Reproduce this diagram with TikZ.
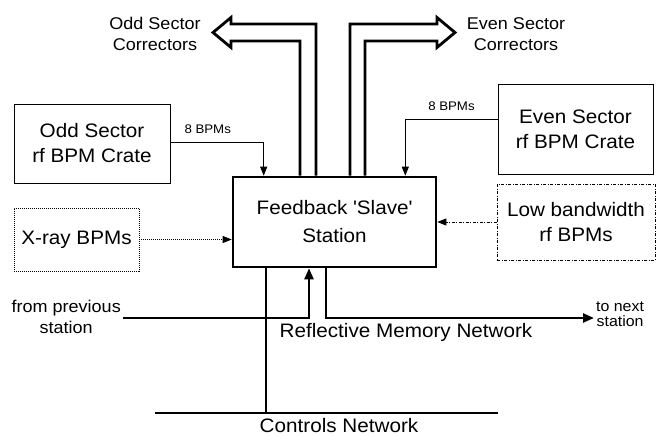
\documentclass[tikz,border=0pt]{standalone}
\usepackage{fontspec}
\setmainfont[FakeStretch=1.06]{Liberation Sans}
\usetikzlibrary{positioning,arrows.meta}

\begin{document}
\begin{tikzpicture}[x=1pt, y=-1pt, >={Triangle[width=9pt,length=11pt]},
  station/.style={draw, line width=2.6pt, minimum width=203pt, minimum height=90pt, align=center, font=\fontsize{19.5}{28}\selectfont},
  crate/.style={draw, line width=0.8pt, align=center, font=\fontsize{19.5}{25}\selectfont},
  xraybox/.style={crate, dash pattern=on 1pt off 1pt},
  lowbox/.style={crate, dash pattern=on 3pt off 1.5pt on 1pt off 1.5pt},
  bus/.style={line width=2.8pt, line join=miter},
  net/.style={line width=2.4pt},
  bpm/.style={line width=0.8pt, ->, >={Triangle[width=7pt,length=9pt]}},
  nbpm/.style={font=\fontsize{12.5}{14}\selectfont, anchor=south, yshift=5pt},
  lbl/.style={align=center, font=\fontsize{17}{21}\selectfont, inner sep=1pt},
  small/.style={align=center, font=\fontsize{15}{15.5}\selectfont, inner sep=1pt},
  big/.style={font=\fontsize{19.5}{24}\selectfont, inner sep=0pt}]
  \useasboundingbox (0,0) rectangle (659,436);

  % feedback station and its inputs
  \node[station] (fb) at (334.5,222) {Feedback \textquotesingle Slave\textquotesingle\\Station};
  \node[crate, minimum width=156pt, minimum height=79pt] (oddcrate) at (92,143.5) {Odd Sector\\rf BPM Crate};
  \node[crate, minimum width=155pt, minimum height=90pt] (evencrate) at (575.5,129) {Even Sector\\rf BPM Crate};
  \node[xraybox, minimum width=125pt, minimum height=63pt] (xray) at (76.5,239.5) {X-ray BPMs};
  \node[lowbox, minimum width=158pt, minimum height=76pt] (lowbw) at (576,222) {Low bandwidth\\rf BPMs};

  \draw[bpm] ([yshift=1.5pt]oddcrate.east) -| ([xshift=32pt]fb.north west) node[nbpm, pos=0.2]{8 BPMs};
  \draw[bpm] ([yshift=10pt]evencrate.west) -| ([xshift=-32pt]fb.north east) node[nbpm, pos=0.25]{8 BPMs};
  \draw[bpm, dash pattern=on 1pt off 1pt] (xray.east) -- (xray.east -| fb.west);
  \draw[bpm, dash pattern=on 3pt off 1.5pt on 1pt off 1.5pt] (lowbw.west) -- (lowbw.west -| fb.east);

  % corrector outputs
  \node[lbl] (oddcorr) at (155,34) {Odd Sector\\Correctors};
  \node[lbl] (evencorr) at (516,34) {Even Sector\\Correctors};
  \draw[bus] (300,0 |- fb.north) |- (231,41) -- (231,47.5) -- (213,32.5) -- (231,17.5) -- (231,24) -| (316,0 |- fb.north);
  \draw[bus] (365,0 |- fb.north) |- (437,41) -- (437,47.5) -- (455,32.5) -- (437,17.5) -- (437,24) -| (350,0 |- fb.north);

  % reflective memory ring
  \coordinate (rmL) at (123,318);
  \coordinate (rmR) at (594,318);
  \draw[net, ->] (rmL) -| (309,0 |- fb.south);
  \draw[net, ->] (326,0 |- fb.south) |- (rmR);
  \node[lbl, left=1pt of rmL, yshift=1pt] (prev) {from previous\\station};
  \node[small, right=1pt of rmR, yshift=4pt] (next) {to next\\station};
  \node[big] (rmnet) at (406,332) {Reflective Memory Network};

  % controls network
  \coordinate (cnL) at (155,413);
  \coordinate (cnR) at (498,413);
  \draw[net] (cnL) -- (cnR);
  \draw[net] (266,0 |- fb.south) -- (266,0 |- cnL);
  \node[big] (cnnet) at (339,426) {Controls Network};
\end{tikzpicture}
\end{document}
